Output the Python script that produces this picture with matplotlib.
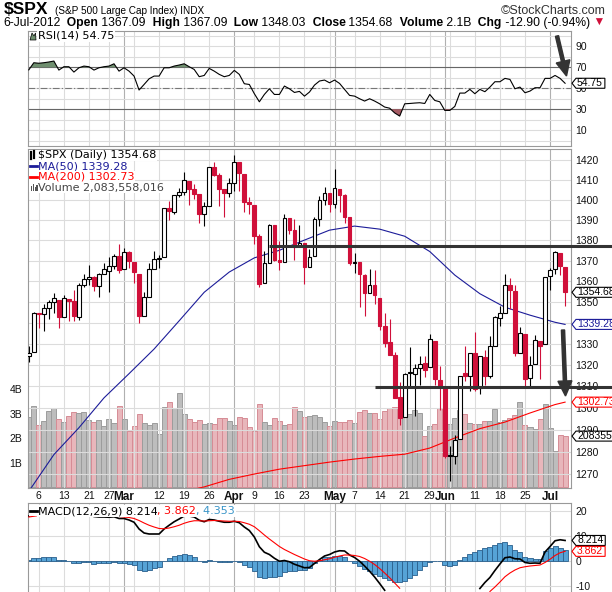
import numpy as np
import pandas as pd
import matplotlib
matplotlib.use('Agg')
import matplotlib.pyplot as plt
from matplotlib.patches import Polygon, Rectangle, FancyArrow
from matplotlib.lines import Line2D
from matplotlib.ticker import NullLocator
from matplotlib.transforms import IdentityTransform

# ---------------------------------------------------------------- data
HOLIDAYS = ['2012-02-20', '2012-04-06', '2012-05-28', '2012-07-04']
DATES = [d.strftime('%Y-%m-%d') for d in pd.bdate_range('2012-02-02', '2012-07-06')
         if d.strftime('%Y-%m-%d') not in HOLIDAYS]

PREV_CLOSE = 1324.09
OPEN = [1324.24, 1326.21, 1344.32, 1344.33, 1347.04, 1349.97, 1351.21, 1343.06, 1351.30, 1350.52,
        1342.61, 1358.06, 1361.22, 1362.11, 1357.53, 1363.46, 1365.20, 1367.56, 1372.20, 1365.90,
        1374.09, 1369.59, 1363.63, 1343.39, 1352.65, 1365.97, 1370.78, 1371.92, 1395.95, 1394.17,
        1402.55, 1404.17, 1409.59, 1405.52, 1402.89, 1392.78, 1397.11, 1416.55, 1412.52, 1405.39,
        1403.31, 1408.47, 1418.98, 1413.09, 1398.79, 1397.45, 1382.18, 1358.98, 1368.77, 1387.61,
        1370.27, 1369.57, 1390.78, 1385.08, 1376.96, 1378.53, 1366.97, 1372.11, 1390.64, 1400.19,
        1403.26, 1397.86, 1405.50, 1402.32, 1391.51, 1368.79, 1369.16, 1363.20, 1354.58, 1358.11,
        1351.93, 1338.36, 1330.78, 1324.82, 1305.05, 1295.73, 1316.09, 1316.02, 1318.72, 1320.81,
        1318.90, 1331.25, 1313.09, 1309.87, 1278.29, 1277.82, 1285.61, 1316.15, 1314.99, 1325.72,
        1309.40, 1324.02, 1314.88, 1329.19, 1342.42, 1344.83, 1357.98, 1355.43, 1325.92, 1334.90,
        1314.09, 1320.71, 1331.52, 1330.12, 1362.33, 1365.75, 1373.72, 1367.09]
HIGH = [1329.19, 1345.34, 1344.36, 1349.24, 1351.00, 1354.32, 1351.21, 1353.35, 1351.30, 1355.87,
        1359.02, 1363.40, 1367.76, 1362.70, 1364.24, 1368.92, 1371.94, 1373.09, 1378.04, 1376.17,
        1374.53, 1369.59, 1363.63, 1354.85, 1368.72, 1374.76, 1373.04, 1396.13, 1399.42, 1402.63,
        1405.88, 1414.00, 1409.59, 1407.75, 1402.89, 1399.18, 1416.58, 1419.15, 1413.65, 1405.39,
        1410.89, 1422.38, 1419.00, 1413.09, 1401.60, 1397.45, 1383.01, 1374.71, 1388.13, 1387.61,
        1379.66, 1392.76, 1390.78, 1390.46, 1387.40, 1378.53, 1375.57, 1391.37, 1402.09, 1406.64,
        1403.26, 1415.32, 1405.50, 1403.07, 1391.51, 1373.91, 1369.16, 1363.73, 1365.88, 1365.66,
        1351.93, 1344.94, 1341.78, 1326.36, 1312.24, 1316.39, 1328.49, 1320.71, 1324.14, 1324.20,
        1334.93, 1331.25, 1319.74, 1309.87, 1282.55, 1287.62, 1315.13, 1329.05, 1325.81, 1335.52,
        1324.31, 1327.28, 1333.68, 1343.32, 1348.22, 1363.46, 1361.57, 1358.27, 1337.82, 1334.90,
        1324.24, 1334.40, 1331.52, 1362.17, 1366.35, 1374.81, 1373.85, 1367.09]
LOW = [1321.57, 1326.21, 1337.52, 1335.92, 1341.95, 1344.63, 1337.35, 1343.06, 1340.83, 1340.80,
       1341.22, 1357.24, 1358.11, 1355.53, 1352.28, 1363.46, 1354.92, 1365.97, 1363.81, 1365.90,
       1366.42, 1359.13, 1340.03, 1343.39, 1352.65, 1365.97, 1366.69, 1371.92, 1389.97, 1392.78,
       1401.47, 1402.43, 1397.68, 1400.64, 1388.73, 1386.87, 1397.11, 1411.95, 1397.20, 1391.56,
       1401.42, 1404.46, 1404.62, 1394.09, 1392.92, 1378.24, 1357.38, 1358.98, 1368.77, 1369.85,
       1365.38, 1369.57, 1383.29, 1370.30, 1376.96, 1358.79, 1366.82, 1372.11, 1387.28, 1397.31,
       1394.00, 1395.73, 1393.92, 1388.71, 1367.96, 1363.94, 1347.75, 1343.13, 1354.58, 1348.89,
       1336.61, 1328.41, 1324.79, 1304.86, 1291.98, 1295.73, 1310.04, 1296.53, 1310.50, 1314.23,
       1318.90, 1310.76, 1298.90, 1277.25, 1266.74, 1274.16, 1285.61, 1312.68, 1307.77, 1307.73,
       1306.62, 1310.51, 1314.14, 1329.19, 1338.63, 1344.83, 1346.45, 1324.41, 1325.92, 1309.27,
       1310.30, 1320.71, 1313.29, 1330.12, 1355.71, 1363.53, 1363.02, 1348.03]
CLOSE = [1325.54, 1344.90, 1344.33, 1347.05, 1349.96, 1351.95, 1342.64, 1351.77, 1350.50, 1343.23,
         1358.04, 1361.23, 1362.21, 1357.66, 1363.46, 1365.74, 1367.59, 1372.18, 1365.68, 1374.09,
         1369.63, 1364.33, 1343.36, 1352.63, 1365.91, 1370.87, 1371.09, 1395.95, 1394.28, 1402.60,
         1404.17, 1409.75, 1405.52, 1402.89, 1392.78, 1397.11, 1416.51, 1412.52, 1405.54, 1403.28,
         1408.47, 1419.04, 1413.38, 1398.96, 1398.08, 1382.20, 1358.59, 1368.71, 1387.57, 1370.26,
         1369.57, 1390.78, 1385.14, 1376.92, 1378.53, 1366.94, 1371.97, 1390.69, 1399.98, 1403.36,
         1397.91, 1405.82, 1402.31, 1391.57, 1369.10, 1369.58, 1363.72, 1354.58, 1357.99, 1353.39,
         1338.35, 1330.66, 1324.80, 1304.86, 1295.22, 1315.99, 1316.63, 1318.86, 1320.68, 1317.82,
         1332.42, 1313.32, 1310.33, 1278.04, 1278.18, 1285.50, 1315.13, 1314.99, 1325.66, 1308.93,
         1324.18, 1314.88, 1329.10, 1342.84, 1344.78, 1357.98, 1355.69, 1325.51, 1335.02, 1313.72,
         1319.99, 1331.85, 1329.04, 1362.16, 1365.51, 1374.02, 1367.58, 1354.68]
# volume in billions of shares
VOLUME_B = [2.86, 3.32, 2.54, 2.70, 3.09, 3.22, 2.79, 2.66, 2.91, 3.07,
            3.03, 3.07, 2.75, 2.66, 2.75, 2.50, 2.78, 2.62, 3.32, 2.78,
            2.30, 2.50, 2.99, 2.62, 2.54, 2.62, 2.17, 3.28, 3.48, 3.24,
            3.85, 2.99, 2.78, 2.66, 2.75, 2.58, 2.62, 2.58, 2.83, 2.83,
            2.70, 2.54, 2.87, 2.83, 2.46, 2.30, 3.40, 2.66, 2.54, 2.83,
            2.70, 2.54, 2.58, 3.28, 3.11, 2.86, 2.91, 2.95, 2.88, 2.68,
            2.50, 2.70, 2.66, 2.66, 2.75, 2.62, 3.07, 3.16, 3.03, 3.03,
            2.79, 3.11, 3.24, 3.28, 3.07, 2.95, 2.99, 3.16, 3.03, 2.09,
            2.50, 2.58, 3.24, 2.79, 2.58, 2.83, 3.16, 2.99, 2.62, 2.58,
            2.58, 2.70, 2.70, 3.20, 2.66, 2.75, 2.83, 2.95, 3.48, 2.54,
            2.46, 2.38, 2.79, 3.40, 2.42, 1.48, 2.13, 2.083558016]
VOLUME_LAST = 2083558016

MA50_DATES = ['2012-02-02', '2012-02-09', '2012-02-16', '2012-02-24', '2012-03-02',
              '2012-03-09', '2012-03-16', '2012-03-23', '2012-03-30', '2012-04-09',
              '2012-04-16', '2012-04-23', '2012-04-30', '2012-05-07', '2012-05-14',
              '2012-05-21', '2012-05-29', '2012-06-05', '2012-06-12', '2012-06-19',
              '2012-06-26', '2012-07-03', '2012-07-06']
MA50_VALUES = [1262.0, 1278.6, 1290.9, 1304.7, 1316.0, 1327.6, 1341.0, 1354.7, 1364.5, 1371.4,
               1375.1, 1380.1, 1385.0, 1387.0, 1385.5, 1382.0, 1374.5, 1363.0, 1354.0, 1347.5,
               1343.7, 1340.3, 1339.28]
MA200_DATES = ['2012-03-21', '2012-03-23', '2012-03-30', '2012-04-09', '2012-04-16',
               '2012-04-23', '2012-04-30', '2012-05-07', '2012-05-14', '2012-05-21',
               '2012-05-29', '2012-06-05', '2012-06-12', '2012-06-19', '2012-06-26',
               '2012-07-03', '2012-07-06']
MA200_VALUES = [1263.0, 1264.0, 1267.4, 1269.8, 1272.0, 1273.6, 1275.2, 1276.6, 1277.8, 1278.8,
                1281.6, 1286.2, 1290.5, 1293.5, 1297.7, 1301.6, 1302.73]

RSI14 = [67.5, 74.3, 73.8, 74.3, 75.0, 75.9, 67.3, 70.5, 70.5, 65.4,
         69.5, 71.1, 70.5, 67.3, 69.5, 70.5, 71.1, 73.3, 66.3, 69.5,
         66.3, 61.6, 48.3, 53.6, 59.0, 61.6, 61.6, 69.5, 69.5, 71.1,
         72.1, 73.3, 70.5, 67.9, 61.0, 62.2, 68.9, 66.3, 63.2, 61.0,
         62.2, 67.0, 63.2, 54.3, 53.6, 44.8, 37.1, 44.1, 49.5, 44.1,
         44.1, 52.1, 49.5, 46.0, 47.0, 42.5, 46.4, 53.0, 56.9, 57.8,
         55.2, 57.8, 54.6, 48.9, 43.2, 42.5, 40.0, 37.8, 40.0, 37.8,
         35.2, 32.1, 31.0, 26.5, 23.5, 35.2, 35.5, 35.9, 36.2, 35.5,
         44.1, 38.4, 37.1, 28.9, 28.9, 32.7, 45.4, 45.4, 48.9, 44.8,
         48.9, 46.7, 51.1, 56.2, 56.2, 59.4, 58.4, 49.5, 51.1, 45.7,
         47.3, 50.5, 50.5, 59.4, 59.4, 62.2, 59.4, 54.75]
MACD = [18.0, 19.0, 19.6, 20.2, 20.6, 20.9, 20.2, 20.0, 19.6, 18.6,
        18.7, 18.7, 18.5, 17.8, 17.6, 17.6, 17.5, 17.7, 17.0, 17.0,
        16.4, 15.5, 12.8, 11.2, 10.8, 10.8, 10.8, 12.8, 14.3, 15.7,
        16.8, 18.0, 18.0, 17.6, 16.3, 15.7, 16.6, 16.4, 15.9, 15.5,
        15.5, 15.9, 15.3, 13.6, 12.2, 9.6, 5.7, 3.5, 2.6, 1.1,
        -0.1, 0.2, -0.3, -1.3, -2.0, -2.7, -2.6, -1.0, 0.6, 2.0,
        2.6, 3.6, 4.1, 4.0, 2.4, 1.4, -0.1, -2.0, -4.1, -6.4,
        -9.0, -11.7, -14.4, -17.1, -19.4, -20.6, -21.3, -21.4, -20.5, -19.3,
        -17.7, -17.4, -17.4, -19.3, -20.4, -20.2, -18.1, -16.5, -14.6, -12.8,
        -11.0, -8.6, -6.6, -3.8, -1.2, 1.3, 1.6, 0.9, 0.8, -0.6,
        -0.9, -0.8, -0.9, 3.6, 5.8, 8.1, 8.5, 8.214]
SIGNAL = [17.6, 17.9, 18.2, 18.6, 19.0, 19.4, 19.6, 19.7, 19.7, 19.5,
          19.3, 19.2, 19.0, 18.8, 18.5, 18.3, 18.1, 18.0, 17.8, 17.6,
          17.4, 17.0, 16.2, 15.2, 14.3, 13.6, 13.0, 12.9, 13.2, 13.7,
          14.3, 15.1, 15.7, 16.1, 16.1, 16.0, 16.1, 16.2, 16.1, 16.0,
          15.9, 15.9, 15.8, 15.3, 14.7, 13.7, 12.1, 10.4, 8.8, 7.3,
          5.8, 4.6, 3.6, 2.6, 1.7, 0.8, 0.1, -0.1, 0.1, 0.5,
          0.9, 1.5, 2.0, 2.4, 2.4, 2.2, 1.8, 1.0, -0.1, -1.4,
          -3.0, -4.8, -6.7, -8.8, -10.9, -12.8, -14.5, -15.9, -16.8, -17.3,
          -17.4, -17.4, -17.4, -17.8, -18.3, -18.7, -18.6, -18.2, -17.4, -16.4,
          -15.3, -13.9, -12.2, -10.4, -8.4, -6.3, -4.8, -3.6, -2.7, -2.3,
          -2.0, -1.8, -1.6, -0.6, 0.7, 2.2, 3.3, 3.862]
HIST_LAST = 4.353

TICK_DATES = ['2012-02-06', '2012-02-13', '2012-02-21', '2012-02-27', '2012-03-01',
              '2012-03-12', '2012-03-19', '2012-03-26', '2012-04-02', '2012-04-09',
              '2012-04-16', '2012-04-23', '2012-05-01', '2012-05-07', '2012-05-14',
              '2012-05-21', '2012-05-29', '2012-06-01', '2012-06-11', '2012-06-18',
              '2012-06-25', '2012-07-02']
TICK_LABELS = ['6', '13', '21', '27', 'Mar', '12', '19', '26', 'Apr', '9', '16', '23',
               'May', '7', '14', '21', '29', 'Jun', '11', '18', '25', 'Jul']
MONTH_DATES = ['2012-03-01', '2012-04-02', '2012-05-01', '2012-06-01', '2012-07-02']
WEEK_DATES = ['2012-02-06', '2012-02-13', '2012-02-21', '2012-02-27', '2012-03-05',
              '2012-03-12', '2012-03-19', '2012-03-26', '2012-04-09', '2012-04-16',
              '2012-04-23', '2012-04-30', '2012-05-07', '2012-05-14', '2012-05-21',
              '2012-05-29', '2012-06-04', '2012-06-11', '2012-06-18', '2012-06-25']

RESISTANCE, RESISTANCE_FROM = 1377.0, '2012-04-12'
SUPPORT, SUPPORT_FROM = 1309.7, '2012-05-11'

# ---------------------------------------------------------------- style
W, H = 612, 592
LEFT, RIGHT = 28, 571
RED = '#d0103a'
LIGHT, DARK = '#dcdcdc', '#b0b0b0'
plt.rcParams['font.family'] = ['Liberation Sans', 'DejaVu Sans']
plt.rcParams['path.simplify'] = False
LEG_FONT = ['DejaVu Sans']

idx = {d: i for i, d in enumerate(DATES)}
x = np.arange(len(DATES))
o, hi, lo, c = (np.array(a) for a in (OPEN, HIGH, LOW, CLOSE))
prev = np.r_[PREV_CLOSE, c[:-1]]
down = c < prev

fig = plt.figure(figsize=(W / 100, H / 100), dpi=100)
renderer = fig.canvas.get_renderer()
PX = IdentityTransform()


def panel(top, bottom):
    ax = fig.add_axes([LEFT / W, 1 - bottom / H, (RIGHT - LEFT) / W, (bottom - top) / H])
    ax.set_xlim(-0.16, 108.18)
    for s in ax.spines.values():
        s.set_color('#999999')
        s.set_linewidth(0.8)
    ax.tick_params(axis='both', length=0, labelsize=7.5, pad=3, colors='#111111')
    ax.set_xticks([])
    ax.yaxis.tick_right()
    ax.yaxis.set_minor_locator(NullLocator())
    for d in WEEK_DATES:
        ax.axvline(idx[d], color=LIGHT, lw=0.8, zorder=0)
    for d in MONTH_DATES:
        ax.axvline(idx[d], color=DARK, lw=0.8, zorder=0)
    return ax


def ftext(xp, yp, s, **kw):
    return fig.text(xp / W, 1 - yp / H, s, **kw)


def tag(ax, value, label, color):
    y = ax.transData.transform((0, value))[1]
    t = fig.text((RIGHT + 6) / W, y / H, label, color=color, fontsize=7.5,
                 va='center', ha='left', zorder=11)
    x1 = t.get_window_extent(renderer).x1 + 2
    hh = 5
    x0 = RIGHT + 1
    fig.add_artist(Polygon([(x0, y), (x0 + 4, y + hh), (x1, y + hh), (x1, y - hh), (x0 + 4, y - hh)],
                           closed=True, transform=PX, fc='white', ec=color, lw=0.8, zorder=10))


def visible_only(values, floor):
    """Leave out points that fall below the bottom edge of the picture."""
    v = np.asarray(values, float)
    return np.ma.masked_where(v < floor, v)


# ---------------------------------------------------------------- RSI panel
ax_rsi = panel(30.5, 146)
ax_rsi.set_ylim(-5, 105)
for v in range(0, 101, 10):
    ax_rsi.axhline(v, color=LIGHT, lw=0.8, zorder=0)
ax_rsi.axhline(70, color='#666666', lw=0.8, zorder=1)
ax_rsi.axhline(30, color='#666666', lw=0.8, zorder=1)
ax_rsi.axhline(50, color='#777777', lw=0.8, ls='-.', dashes=(6, 2, 1, 2), zorder=1)
rsi = np.array(RSI14)
ax_rsi.fill_between(x, rsi, 70, where=rsi >= 70, interpolate=True, color='#6f8f6f', lw=0, zorder=2)
ax_rsi.fill_between(x, rsi, 30, where=rsi <= 30, interpolate=True, color='#a65c64', lw=0, zorder=2)
ax_rsi.plot(x, rsi, color='black', lw=0.8, zorder=3)
ax_rsi.set_yticks([10, 30, 50, 70, 90], ['10', '30', '50', '70', '90'])

# ---------------------------------------------------------------- price panel
ax_px = panel(149, 488)
ax_vol = ax_px.twinx()
ax_px.set_zorder(1)
ax_vol.set_zorder(0.5)
ax_px.patch.set_visible(False)
ax_px.set_yscale('log')
ax_px.set_ylim(1263.5, 1425.6)
levels = list(range(1270, 1421, 10))
for v in levels:
    ax_px.axhline(v, color=LIGHT, lw=0.8, zorder=0)
ax_px.yaxis.tick_right()
ax_px.set_yticks(levels, [str(v) for v in levels])
ax_px.yaxis.set_minor_locator(NullLocator())
ax_px.tick_params(axis='y', length=0, pad=3, labelsize=7.5)

ax_vol.set_ylim(-0.04, 13.83)
for s in ax_vol.spines.values():
    s.set_visible(False)
ax_vol.bar(x, VOLUME_B, width=1.0,
           color=np.where(down, '#e8b6bb', '#bdbdbd'),
           edgecolor=np.where(down, '#d68c95', '#9c9c9c'), lw=0.7)
ax_vol.yaxis.tick_left()
ax_vol.set_yticks([1, 2, 3, 4], ['1B', '2B', '3B', '4B'])
ax_vol.yaxis.set_minor_locator(NullLocator())
ax_vol.tick_params(axis='y', length=0, pad=4, labelsize=7.5, colors='#111111')

ma50_x = [idx[d] for d in MA50_DATES]
ma200_x = [idx[d] for d in MA200_DATES]
ax_px.plot(ma50_x, MA50_VALUES, color='#1c1c99', lw=0.8, zorder=2)
ax_px.plot(ma200_x, MA200_VALUES, color='#ff0000', lw=0.8, zorder=2)

col = np.where(down, RED, 'black')
ax_px.vlines(x, lo, hi, colors=col, lw=0.8, zorder=3)
body_lo = np.minimum(o, c)
body_h = np.maximum(np.abs(c - o), 0.25)
hollow = c >= o
ax_px.bar(x, body_h, bottom=body_lo, width=0.74,
          color=np.where(hollow, 'white', col), edgecolor=col, lw=0.8, zorder=4)

ax_px.set_xticks([idx[d] for d in TICK_DATES], TICK_LABELS)
ax_px.tick_params(axis='x', length=0, pad=2.5, labelsize=7.5)
for lab, txt in zip(ax_px.get_xticklabels(), TICK_LABELS):
    if txt.isalpha():
        lab.set_fontweight('bold')
        lab.set_fontsize(8.5)

# ---------------------------------------------------------------- MACD panel
# the panel is cut by the bottom edge of the picture
MACD_FLOOR = -12.4
ax_macd = panel(503, 592)
ax_macd.set_ylim(MACD_FLOOR, 23.2)
ax_macd.spines['bottom'].set_visible(False)
for v in (-10, 0, 10, 20):
    ax_macd.axhline(v, color=LIGHT, lw=0.8, zorder=0)
hist = np.array(MACD) - np.array(SIGNAL)
ax_macd.bar(x, hist, width=1.0, color='#56a3d6', edgecolor='#2a5f8c', lw=0.6, zorder=2)
ax_macd.plot(x, visible_only(MACD, MACD_FLOOR), color='black', lw=1.2, zorder=3)
ax_macd.plot(x, visible_only(SIGNAL, MACD_FLOOR), color='#ff0000', lw=0.8, zorder=3)
ax_macd.set_yticks([-10, 0, 10, 20], ['-10', '0', '10', '20'])

# ---------------------------------------------------------------- legends
leg_box = dict(fc='white', ec='none', pad=0.6)
ftext(37.5, 36, 'RSI(14) %.2f' % RSI14[-1], fontsize=8, family=LEG_FONT, va='center',
      bbox=leg_box, zorder=8)
fig.add_artist(Polygon([(30, H - 40), (32, H - 33), (34, H - 36), (35.5, H - 33), (36, H - 40)],
                       transform=PX, fc='#6f8f6f', ec='black', lw=0.5, zorder=9))

legend_rows = [('$SPX (Daily) %.2f' % CLOSE[-1], 'black', 155.5),
               ('MA(50) %.2f' % MA50_VALUES[-1], '#1c1c99', 166),
               ('MA(200) %.2f' % MA200_VALUES[-1], '#ff0000', 176.8),
               ('Volume {:,}'.format(VOLUME_LAST), '#444444', 187.5)]
for s, colr, yp in legend_rows:
    ftext(37.5, yp, s, color=colr, fontsize=8, family=LEG_FONT, va='center',
          bbox=leg_box, zorder=8)
fig.add_artist(Rectangle((29, H - 192), 8, 42, transform=PX, fc='white', ec='none', zorder=8))
for yp, colr in ((166, '#1c1c99'), (176.8, '#ff0000')):
    fig.add_artist(Line2D([30, 37], [H - yp, H - yp], transform=PX, color=colr, lw=2, zorder=9))
for xx, y0, y1 in ((31, 152, 159), (34, 151, 158)):
    fig.add_artist(Line2D([xx, xx], [H - y0, H - y1], transform=PX, color='black', lw=1.6, zorder=9))
for xx, hgt in ((30.5, 5), (32.5, 7), (34.5, 4), (36.3, 6)):
    fig.add_artist(Rectangle((xx, H - 191), 1.4, hgt, transform=PX, fc='#555555', ec='none', zorder=9))

xp = 37.5
for s, colr in (('MACD(12,26,9) %.3f' % MACD[-1], 'black'), (', %.3f' % SIGNAL[-1], '#ff0000'),
                (', %.3f' % HIST_LAST, '#3a95c8')):
    t = ftext(xp, 511, s, color=colr, fontsize=8, family=LEG_FONT, va='center',
              bbox=leg_box, zorder=8)
    xp = t.get_window_extent(renderer).x1
fig.add_artist(Rectangle((29, H - 516), 8, 10, transform=PX, fc='white', ec='none', zorder=8))
fig.add_artist(Line2D([30, 37], [H - 511, H - 511], transform=PX, color='black', lw=2, zorder=9))

# ---------------------------------------------------------------- header
ftext(4, 10, '$SPX', fontsize=12.5, fontweight='bold', va='center')
ftext(55, 10.5, '(S&P 500 Large Cap Index) INDX', fontsize=7.2, va='center')
ftext(606, 10.5, '\u00a9StockCharts.com', fontsize=9, va='center', ha='right', color='#333333')
pieces = [('6-Jul-2012', 'normal', 'black'), ('  Open', 'bold', 'black'), (' 1367.09', 'normal', 'black'),
          ('  High', 'bold', 'black'), (' 1367.09', 'normal', 'black'), ('  Low', 'bold', 'black'),
          (' 1348.03', 'normal', 'black'), ('  Close', 'bold', 'black'), (' 1354.68', 'normal', 'black'),
          ('  Volume', 'bold', 'black'), (' 2.1B', 'normal', 'black'), ('  Chg', 'bold', 'black'),
          (' -12.90 (-0.94%)', 'normal', 'black'), (' \u25bc', 'normal', RED)]
xp = 3
for s, wt, colr in pieces:
    t = ftext(xp, 23, s, fontsize=8.75, fontweight=wt, color=colr, va='center')
    xp = t.get_window_extent(renderer).x1

# ---------------------------------------------------------------- value tags
tag(ax_rsi, RSI14[-1], '%.2f' % RSI14[-1], 'black')
tag(ax_px, CLOSE[-1], '%.2f' % CLOSE[-1], 'black')
tag(ax_px, MA50_VALUES[-1], '%.2f' % MA50_VALUES[-1], '#1c1c99')
tag(ax_px, MA200_VALUES[-1], '%.2f' % MA200_VALUES[-1], '#ff0000')
tag(ax_vol, VOLUME_B[-1], str(VOLUME_LAST), 'black')
tag(ax_macd, MACD[-1], '%.3f' % MACD[-1], 'black')
tag(ax_macd, SIGNAL[-1], '%.3f' % SIGNAL[-1], '#ff0000')

# ---------------------------------------------------------------- hand-drawn annotations
for level, start in ((RESISTANCE, RESISTANCE_FROM), (SUPPORT, SUPPORT_FROM)):
    xd, yd = ax_px.transData.transform((idx[start], level))
    fig.add_artist(Line2D([xd, W + 5], [yd, yd], transform=PX, color='#333333', lw=2.2,
                          solid_capstyle='butt', zorder=12))
for (x0, y0), (x1, y1) in (((557, 36), (566.5, 76)), ((563, 330), (565.5, 396))):
    fig.add_artist(FancyArrow(x0, H - y0, x1 - x0, -(y1 - y0), width=3.2, head_width=14,
                              head_length=15, length_includes_head=True, transform=PX,
                              color='#333333', zorder=13))

fig.savefig('out.png', dpi=100)
